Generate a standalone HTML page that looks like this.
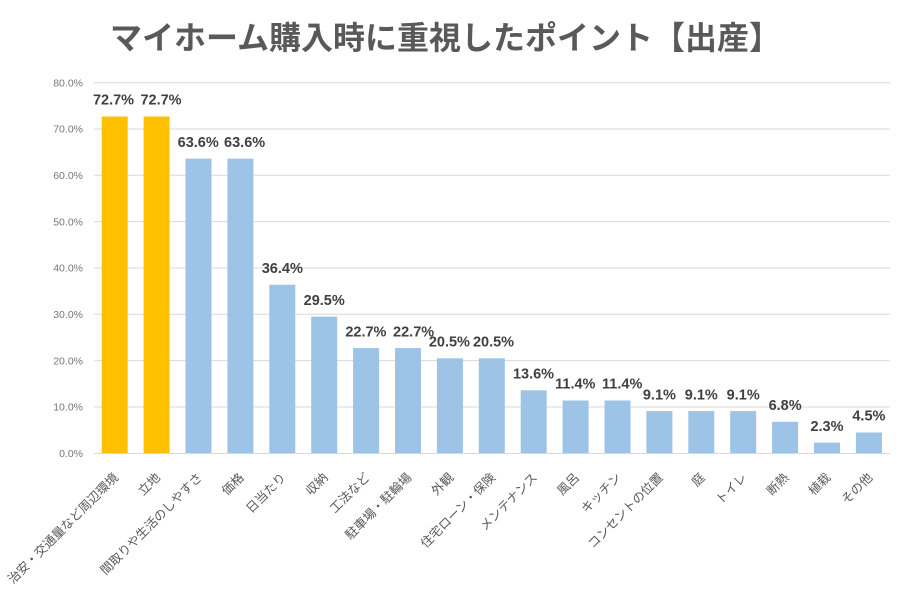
<!DOCTYPE html>
<html><head><meta charset="utf-8">
<style>
html,body{margin:0;padding:0;background:#fff;}
svg{display:block;}
.t{font-family:"Liberation Sans","Noto Sans CJK JP",sans-serif;font-weight:bold;font-size:32px;fill:#595959;}
.y{font-family:"Liberation Sans",sans-serif;font-size:10.5px;fill:#767676;}
.v{font-family:"Liberation Sans",sans-serif;font-weight:bold;font-size:14.5px;fill:#404040;}
.x{font-family:"Liberation Sans","Noto Sans CJK JP",sans-serif;font-size:12.5px;fill:#595959;}
</style></head>
<body>
<svg width="900" height="593" viewBox="0 0 900 593" xmlns="http://www.w3.org/2000/svg">
<rect width="900" height="593" fill="#fff"/>
<text class="t" x="110" y="49">マイホーム購入時に重視したポイント【出産】</text>

<g stroke="#d9d9d9" stroke-width="1">
<line x1="94" x2="890" y1="82.7" y2="82.7"/>
<line x1="94" x2="890" y1="129.0" y2="129.0"/>
<line x1="94" x2="890" y1="175.3" y2="175.3"/>
<line x1="94" x2="890" y1="221.6" y2="221.6"/>
<line x1="94" x2="890" y1="268.0" y2="268.0"/>
<line x1="94" x2="890" y1="314.3" y2="314.3"/>
<line x1="94" x2="890" y1="360.6" y2="360.6"/>
<line x1="94" x2="890" y1="407.0" y2="407.0"/>
</g>

<g class="y" text-anchor="end">
<text x="83" y="86.4">80.0%</text>
<text x="83" y="132.7">70.0%</text>
<text x="83" y="179.0">60.0%</text>
<text x="83" y="225.3">50.0%</text>
<text x="83" y="271.7">40.0%</text>
<text x="83" y="318.0">30.0%</text>
<text x="83" y="364.3">20.0%</text>
<text x="83" y="410.7">10.0%</text>
<text x="83" y="457.0">0.0%</text>
</g>

<g>
<rect x="101.7" y="116.5" width="26" height="336.8" fill="#FFC000"/>
<rect x="143.6" y="116.5" width="26" height="336.8" fill="#FFC000"/>
<g fill="#9DC3E6">
<rect x="185.5" y="158.6" width="26" height="294.7"/>
<rect x="227.4" y="158.6" width="26" height="294.7"/>
<rect x="269.3" y="284.7" width="26" height="168.6"/>
<rect x="311.2" y="316.6" width="26" height="136.7"/>
<rect x="353.1" y="348.1" width="26" height="105.2"/>
<rect x="395.0" y="348.1" width="26" height="105.2"/>
<rect x="436.9" y="358.3" width="26" height="95.0"/>
<rect x="478.8" y="358.3" width="26" height="95.0"/>
<rect x="520.7" y="390.3" width="26" height="63.0"/>
<rect x="562.6" y="400.5" width="26" height="52.8"/>
<rect x="604.5" y="400.5" width="26" height="52.8"/>
<rect x="646.4" y="411.1" width="26" height="42.2"/>
<rect x="688.3" y="411.1" width="26" height="42.2"/>
<rect x="730.2" y="411.1" width="26" height="42.2"/>
<rect x="772.1" y="421.8" width="26" height="31.5"/>
<rect x="814.0" y="442.6" width="26" height="10.7"/>
<rect x="855.9" y="432.5" width="26" height="20.8"/>
</g>
</g>

<line x1="94" x2="890" y1="453.5" y2="453.5" stroke="#d9d9d9" stroke-width="1"/>

<g class="v" text-anchor="middle">
<text x="113.5" y="104.7">72.7%</text>
<text x="161.0" y="104.7">72.7%</text>
<text x="198.2" y="146.8">63.6%</text>
<text x="244.6" y="146.8">63.6%</text>
<text x="282.3" y="272.9">36.4%</text>
<text x="324.2" y="304.8">29.5%</text>
<text x="365.9" y="336.3">22.7%</text>
<text x="413.6" y="336.3">22.7%</text>
<text x="449.4" y="346.5">20.5%</text>
<text x="493.5" y="346.5">20.5%</text>
<text x="533.5" y="378.5">13.6%</text>
<text x="575.3" y="388.7">11.4%</text>
<text x="622.2" y="388.7">11.4%</text>
<text x="659.4" y="399.3">9.1%</text>
<text x="701.3" y="399.3">9.1%</text>
<text x="743.2" y="399.3">9.1%</text>
<text x="785.1" y="410.0">6.8%</text>
<text x="827.0" y="430.8">2.3%</text>
<text x="868.9" y="420.7">4.5%</text>
</g>

<g class="x" text-anchor="end">
<g transform="translate(115.7,475) rotate(-45)"><text y="4.7">治安・交通量など周辺環境</text></g>
<g transform="translate(157.6,475) rotate(-45)"><text y="4.7">立地</text></g>
<g transform="translate(199.5,475) rotate(-45)"><text y="4.7">間取りや生活のしやすさ</text></g>
<g transform="translate(241.4,475) rotate(-45)"><text y="4.7">価格</text></g>
<g transform="translate(283.3,475) rotate(-45)"><text y="4.7">日当たり</text></g>
<g transform="translate(325.2,475) rotate(-45)"><text y="4.7">収納</text></g>
<g transform="translate(367.1,475) rotate(-45)"><text y="4.7">工法など</text></g>
<g transform="translate(409.0,475) rotate(-45)"><text y="4.7">駐車場・駐輪場</text></g>
<g transform="translate(450.9,475) rotate(-45)"><text y="4.7">外観</text></g>
<g transform="translate(492.8,475) rotate(-45)"><text y="4.7">住宅ローン・保険</text></g>
<g transform="translate(534.7,475) rotate(-45)"><text y="4.7">メンテナンス</text></g>
<g transform="translate(576.6,475) rotate(-45)"><text y="4.7">風呂</text></g>
<g transform="translate(618.5,475) rotate(-45)"><text y="4.7">キッチン</text></g>
<g transform="translate(660.4,475) rotate(-45)"><text y="4.7">コンセントの位置</text></g>
<g transform="translate(702.3,475) rotate(-45)"><text y="4.7">庭</text></g>
<g transform="translate(744.2,475) rotate(-45)"><text y="4.7">トイレ</text></g>
<g transform="translate(786.1,475) rotate(-45)"><text y="4.7">断熱</text></g>
<g transform="translate(828.0,475) rotate(-45)"><text y="4.7">植栽</text></g>
<g transform="translate(869.9,475) rotate(-45)"><text y="4.7">その他</text></g>
</g>
</svg>
</body></html>
